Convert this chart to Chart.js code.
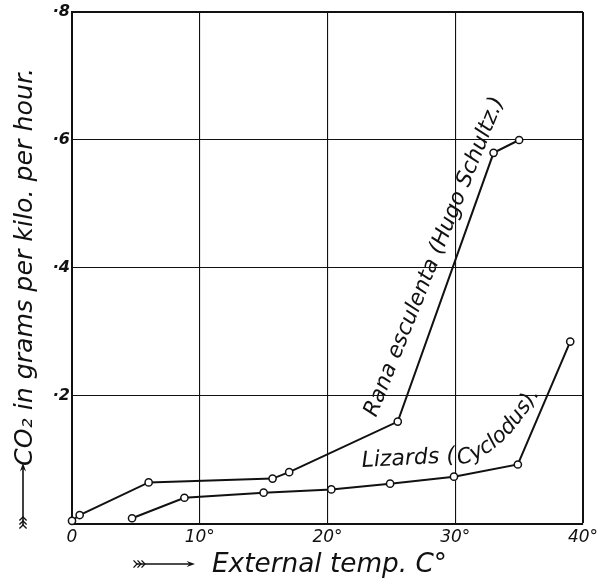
<!DOCTYPE html>
<html lang="en">
<head>
<meta charset="UTF-8">
<title>CO2 output and external temperature</title>
<script src="https://cdn.jsdelivr.net/npm/chart.js"></script>
<style>
  html, body { margin: 0; padding: 0; background: #fff; }
  canvas { display: block; }
</style>
</head>
<body>
<canvas id="co2Chart" width="602" height="581"></canvas>
<script>
// values: external temperature (deg C) vs CO2 (g per kilo per hour)
const ranaTemp = [0, 0.6, 6, 15.7, 17, 25.5, 33, 35];
const ranaCO2 = [0.005, 0.014, 0.065, 0.071, 0.081, 0.16, 0.58, 0.60];
const lizardTemp = [4.7, 8.8, 15, 20.3, 24.9, 29.9, 34.9, 39];
const lizardCO2 = [0.009, 0.041, 0.049, 0.054, 0.063, 0.074, 0.093, 0.285];

const xTicks = [0, 10, 20, 30, 40];
const xTickLabels = ['0', '10°', '20°', '30°', '40°'];
const yTicks = [0, 0.2, 0.4, 0.6, 0.8];
const yTickLabels = ['', '·2', '·4', '·6', '·8'];

const yTitle = 'CO₂ in grams per kilo. per hour.';
const xTitle = 'External temp. C°';
const ranaLabel = 'Rana esculenta (Hugo Schultz.)';
const lizardLabelA = 'Lizards (';
const lizardLabelB = 'Cyclodus).';

const FAMILY = '"DejaVu Sans", sans-serif';
const INK = '#111';

function toPoints(xs, ys) {
    return xs.map((x, i) => ({ x: x, y: ys[i] }));
}

// pick a font size so the text spans the wanted width
function fitFont(ctx, text, width, style) {
    ctx.font = style + ' 20px ' + FAMILY;
    const w = ctx.measureText(text).width;
    return style + ' ' + (20 * width / w).toFixed(2) + 'px ' + FAMILY;
}

function arrowHead(ctx, x, y, ang, size) {
    ctx.beginPath();
    ctx.moveTo(x, y);
    ctx.lineTo(x - size * Math.cos(ang - 0.35), y - size * Math.sin(ang - 0.35));
    ctx.lineTo(x - size * 0.6 * Math.cos(ang), y - size * 0.6 * Math.sin(ang));
    ctx.lineTo(x - size * Math.cos(ang + 0.35), y - size * Math.sin(ang + 0.35));
    ctx.closePath();
    ctx.fill();
}

function feathers(ctx, x, y, ang, n) {
    for (let i = 0; i < n; i++) {
        const bx = x + i * 4 * Math.cos(ang), by = y + i * 4 * Math.sin(ang);
        ctx.beginPath();
        ctx.moveTo(bx - 5 * Math.cos(ang - 0.8), by - 5 * Math.sin(ang - 0.8));
        ctx.lineTo(bx, by);
        ctx.lineTo(bx - 5 * Math.cos(ang + 0.8), by - 5 * Math.sin(ang + 0.8));
        ctx.stroke();
    }
}

function textOnCurve(ctx, text, p0, c, p2, style) {
    const pts = [];
    let len = 0;
    for (let i = 0; i <= 200; i++) {
        const t = i / 200;
        const x = (1 - t) * (1 - t) * p0.x + 2 * (1 - t) * t * c.x + t * t * p2.x;
        const y = (1 - t) * (1 - t) * p0.y + 2 * (1 - t) * t * c.y + t * t * p2.y;
        if (pts.length) len += Math.hypot(x - pts[pts.length - 1].x, y - pts[pts.length - 1].y);
        pts.push({ x: x, y: y, d: len });
    }
    ctx.font = fitFont(ctx, text, len, style);
    let d = 0;
    for (const ch of text) {
        const w = ctx.measureText(ch).width;
        const mid = d + w / 2;
        let k = pts.findIndex(p => p.d >= mid);
        if (k < 1) k = 1;
        const a = pts[k - 1], b = pts[k];
        const ang = Math.atan2(b.y - a.y, b.x - a.x);
        ctx.save();
        ctx.translate(a.x, a.y);
        ctx.rotate(ang);
        ctx.textAlign = 'center';
        ctx.fillText(ch, 0, 0);
        ctx.restore();
        d += w;
    }
}

const plateText = {
    id: 'plateText',
    afterDatasetsDraw(chart) {
        const ctx = chart.ctx;
        const xs = chart.scales.x, ys = chart.scales.y;
        const px = (x, y) => ({ x: xs.getPixelForValue(x), y: ys.getPixelForValue(y) });
        const area = chart.chartArea;
        ctx.save();
        ctx.fillStyle = INK;
        ctx.strokeStyle = INK;
        ctx.textBaseline = 'alphabetic';

        // frog label, running up beside its line
        const r0 = px(23.8, 0.166), r1 = px(33.8, 0.6625);
        ctx.save();
        ctx.translate(r0.x, r0.y);
        ctx.rotate(Math.atan2(r1.y - r0.y, r1.x - r0.x));
        ctx.font = fitFont(ctx, ranaLabel, Math.hypot(r1.x - r0.x, r1.y - r0.y), 'italic');
        ctx.fillText(ranaLabel, 0, 0);
        ctx.restore();

        // lizard label, flat first and then bending up
        const l0 = px(22.7, 0.089), l1 = px(30.0, 0.097);
        ctx.save();
        ctx.translate(l0.x, l0.y);
        ctx.rotate(Math.atan2(l1.y - l0.y, l1.x - l0.x));
        ctx.font = fitFont(ctx, lizardLabelA, Math.hypot(l1.x - l0.x, l1.y - l0.y), 'italic');
        ctx.fillText(lizardLabelA, 0, 0);
        ctx.restore();
        textOnCurve(ctx, lizardLabelB, px(30.3, 0.093), px(33.6, 0.103), px(36.6, 0.205), 'italic');

        // y title with its arrow
        ctx.save();
        ctx.translate(32, area.top + 255);
        ctx.rotate(-Math.PI / 2);
        ctx.textAlign = 'center';
        ctx.font = fitFont(ctx, yTitle, 398, 'italic');
        ctx.fillText(yTitle, 0, 0);
        ctx.restore();

        ctx.lineWidth = 1.6;
        ctx.beginPath();
        ctx.moveTo(23, area.bottom + 1);
        ctx.lineTo(23, area.bottom - 58);
        ctx.stroke();
        arrowHead(ctx, 23, area.bottom - 61, -Math.PI / 2, 9);
        ctx.lineWidth = 1.3;
        feathers(ctx, 23, area.bottom + 1, -Math.PI / 2, 3);

        // x title with its arrow
        ctx.font = fitFont(ctx, xTitle, 235, 'italic');
        ctx.textAlign = 'left';
        ctx.fillText(xTitle, 212, area.bottom + 48);
        ctx.lineWidth = 1.6;
        ctx.beginPath();
        ctx.moveTo(137, area.bottom + 40);
        ctx.lineTo(192, area.bottom + 40);
        ctx.stroke();
        arrowHead(ctx, 195, area.bottom + 40, 0, 9);
        ctx.lineWidth = 1.3;
        feathers(ctx, 137, area.bottom + 40, 0, 3);

        ctx.restore();
    }
};

const ctx = document.getElementById('co2Chart').getContext('2d');

new Chart(ctx, {
    type: 'line',
    data: {
        datasets: [{
            label: ranaLabel,
            data: toPoints(ranaTemp, ranaCO2),
            clip: false
        }, {
            label: lizardLabelA + lizardLabelB,
            data: toPoints(lizardTemp, lizardCO2),
            clip: false
        }]
    },
    options: {
        responsive: false,
        animation: false,
        devicePixelRatio: 1,
        layout: { padding: { top: 12, right: 19, left: 0, bottom: 0 } },
        elements: {
            line: { borderColor: INK, borderWidth: 2, tension: 0, fill: false },
            point: {
                radius: 3.6,
                backgroundColor: '#fff',
                borderColor: INK,
                borderWidth: 1.5
            }
        },
        plugins: {
            legend: { display: false },
            tooltip: { enabled: false }
        },
        scales: {
            x: {
                type: 'linear',
                min: 0,
                max: 40,
                afterBuildTicks: s => { s.ticks = xTicks.map(v => ({ value: v })); },
                afterFit: s => { s.height = 57; },
                ticks: {
                    callback: (v, i) => xTickLabels[i],
                    color: INK,
                    padding: 3,
                    maxRotation: 0,
                    font: { family: FAMILY, size: 17, style: 'italic' }
                },
                grid: {
                    color: INK,
                    lineWidth: c => (c.tick && c.tick.value === 40) ? 2 : 1.1,
                    drawTicks: false
                },
                border: { color: INK, width: 2 }
            },
            y: {
                type: 'linear',
                min: 0,
                max: 0.8,
                afterBuildTicks: s => { s.ticks = yTicks.map(v => ({ value: v })); },
                afterFit: s => { s.width = 72; },
                ticks: {
                    callback: (v, i) => yTickLabels[i],
                    color: INK,
                    padding: 2,
                    font: { family: FAMILY, size: 16, style: 'italic', weight: 'bold' }
                },
                grid: {
                    color: INK,
                    lineWidth: c => (c.tick && c.tick.value === 0.8) ? 2 : 1.1,
                    drawTicks: false
                },
                border: { color: INK, width: 2 }
            }
        }
    },
    plugins: [plateText]
});
</script>
</body>
</html>
